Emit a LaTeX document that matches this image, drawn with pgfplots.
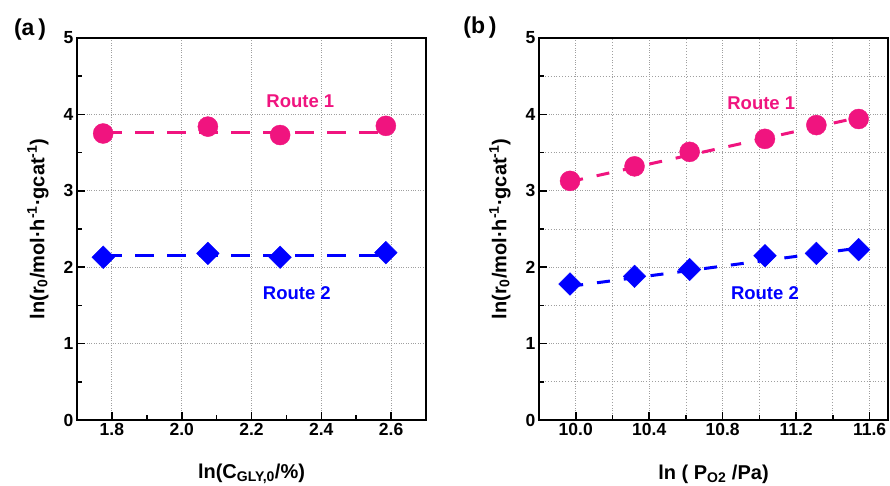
\documentclass[border=0pt]{standalone}
\usepackage{fontspec}
\setmainfont{Liberation Sans}
\usepackage{pgfplots}
\pgfplotsset{compat=1.18}
\definecolor{routeA}{HTML}{F0147F}
\definecolor{routeB}{HTML}{0000FF}

\pgfplotsset{
  panel/.style={
    scale only axis, width=349pt, height=382pt, anchor=south west,
    ymin=0, ymax=5, ytick={0,1,2,3,4,5}, minor y tick num=1,
    axis line style={line width=2.2pt},
    tick style={line width=1.6pt, black},
    major tick length=8pt, minor tick length=5pt,
    tick align=inside, xtick pos=bottom, ytick pos=left,
    ticklabel style={font=\fontsize{17.5}{20}\selectfont\bfseries},
    /pgf/number format/assume math mode=true,
    xticklabel style={/pgf/number format/.cd, fixed, fixed zerofill, precision=1},
    grid style={gray!75, dotted, line width=0.9pt},
    every axis y label/.style={at={(axis description cs:-0.112,0.5)}, rotate=90, anchor=center,
      font=\fontsize{20}{24}\selectfont\bfseries},
    every axis x label/.style={at={(axis description cs:0.5,-0.142)}, anchor=center,
      font=\fontsize{20}{24}\selectfont\bfseries},
    ylabel={ln(r\textsubscript{0}/mol·h\textsuperscript{-1}·gcat\textsuperscript{-1})},
  },
  fitA/.style={routeA, line width=3pt, no marks},
  fitB/.style={routeB, line width=3pt, no marks},
  ptsA/.style={only marks, mark=*, mark size=10pt, routeA, mark options={draw=routeA, fill=routeA}},
  ptsB/.style={only marks, mark=square*, mark size=8pt, routeB, mark options={rotate=45, draw=routeB, fill=routeB}},
}
\tikzset{lbl/.style={font=\fontsize{18.5}{22}\selectfont\bfseries}}

\begin{document}
\begin{tikzpicture}
% panel (a)
\begin{axis}[panel, name=A, at={(0pt,0pt)},
  xmin=1.7, xmax=2.7, xtick={1.8,2.0,2.2,2.4,2.6}, minor x tick num=1,
  xmajorgrids, ymajorgrids,
  xlabel={ln(C\textsubscript{GLY,0}/\%)}]
\addplot[fitA, dash pattern=on 19pt off 13pt] coordinates {(1.775,3.76) (2.585,3.76)};
\addplot[fitB, dash pattern=on 19pt off 13pt] coordinates {(1.775,2.15) (2.585,2.15)};
\addplot[ptsA] coordinates {(1.775,3.75) (2.075,3.84) (2.282,3.73) (2.585,3.85)};
\addplot[ptsB] coordinates {(1.775,2.13) (2.075,2.18) (2.282,2.13) (2.585,2.19)};
\node[lbl, text=routeA] at (axis cs:2.34,4.17) {Route 1};
\node[lbl, text=routeB] at (axis cs:2.33,1.66) {Route 2};
\end{axis}
% panel (b)
\begin{axis}[panel, name=B, at={(462pt,0pt)},
  xmin=9.8, xmax=11.7, xtick={10.0,10.4,10.8,11.2,11.6}, minor x tick num=1,
  xmajorgrids, ymajorgrids, xminorgrids, yminorgrids,
  minor grid style={gray!75, dotted, line width=0.9pt},
  xlabel={ln ( P\textsubscript{O2} /Pa)}]
\addplot[fitA, dash pattern=on 13pt off 14pt] coordinates {(9.97,3.12) (11.54,3.96)};
\addplot[fitB, dash pattern=on 13pt off 14pt] coordinates {(9.97,1.75) (11.54,2.25)};
\addplot[ptsA] coordinates {(9.969,3.13) (10.32,3.32) (10.62,3.51) (11.03,3.68) (11.31,3.86) (11.54,3.94)};
\addplot[ptsB] coordinates {(9.969,1.78) (10.32,1.88) (10.62,1.97) (11.03,2.15) (11.31,2.18) (11.54,2.23)};
\node[lbl, text=routeA] at (axis cs:11.01,4.15) {Route 1};
\node[lbl, text=routeB] at (axis cs:11.03,1.66) {Route 2};
\end{axis}
\node[font=\fontsize{23}{26}\selectfont\bfseries] at (-47pt,390pt) {(a\,)};
\node[font=\fontsize{23}{26}\selectfont\bfseries] at (403pt,392pt) {(b\,)};
\pgfresetboundingbox
\path (-77pt,-65pt) rectangle (813pt,420pt);
\end{tikzpicture}
\end{document}
